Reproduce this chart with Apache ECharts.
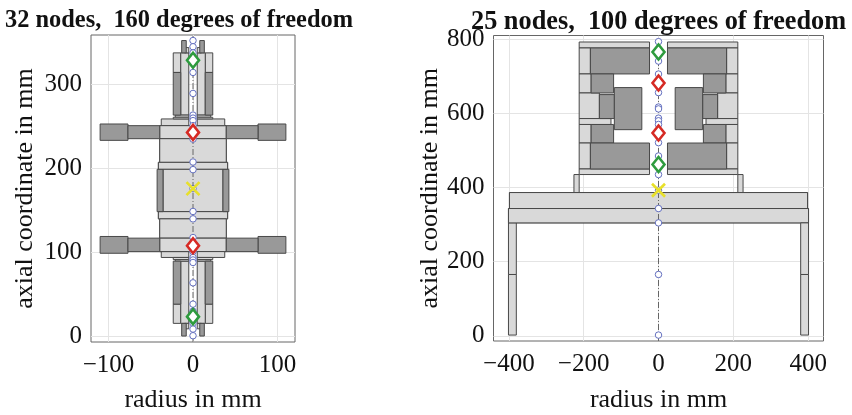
<!DOCTYPE html>
<html><head><meta charset="utf-8">
<script src="https://cdn.jsdelivr.net/npm/echarts@6/dist/echarts.min.js"></script>
<style>html,body{margin:0;padding:0;background:#fff}#c{width:852px;height:415px}</style>
</head><body><div id="c"></div>
<script>
const titleA = '32 nodes,  160 degrees of freedom';
const titleB = '25 nodes,  100 degrees of freedom';
const xName = 'radius in mm';
const yName = 'axial coordinate in mm';
const xTicksA = [-100, 0, 100];
const yTicksA = [0, 100, 200, 300];
const xTicksB = [-400, -200, 0, 200, 400];
const yTicksB = [0, 200, 400, 600, 800];

// rectangles in mm: [r0, z0, r1, z1]; every one is mirrored about r = 0
const lightA = [
  [-39.4, 235.5, 39.4, 251], [-39.4, 207.3, 39.4, 235.5], [-37.6, 251, -5, 259], [-41, 199, 41, 207.3],
  [-35.5, 148.6, 35.5, 199], [-41, 140, 41, 148.6], [-39.4, 117, 39.4, 140], [-39.4, 101, 39.4, 117],
  [-37.6, 94, -5, 101],
  [-23.4, 314.4, -14.5, 337.7], [-14.5, 263.6, -5, 337.7], [-21, 261, -5, 263.6], [-23.4, 259, -5, 261],
  [-10, 337.7, -5, 344],
  [-23.4, 15.5, -14.5, 38.4], [-14.5, 15.5, -5, 89.6], [-21, 91.5, -5, 89.6], [-23.4, 94, -5, 91.5],
  [-10, 9, -5, 15.5]
];
const darkA = [
  [-110, 233.5, -77, 253], [-77, 235.5, -39.4, 251],
  [-110, 99, -77, 119], [-77, 101, -39.4, 117],
  [-42.5, 148.6, -35.5, 199],
  [-23.4, 263.6, -14.5, 314.4], [-23.4, 38.4, -14.5, 89.6],
  [-13.4, 337.7, -8, 352.4], [-13.4, 0.4, -8, 15.5]
];
const lightB = [
  [-212, 776.4, -24, 792.5], [-212, 706.3, -182, 776.4], [-212, 655, -180, 706.3],
  [-212, 586, -158, 655], [-212, 570, -127, 586], [-212, 520, -180, 570],
  [-212, 450, -182, 520], [-212, 435, -24, 450], [-226, 386.4, -212, 435],
  [-398.4, 343.3, 398.4, 386.4], [-401, 304.6, 401, 343.3],
  [-401, 165.4, -380, 304.6], [-401, 2, -380, 165.4]
];
const darkB = [
  [-182, 706.3, -24, 776.4], [-180, 655, -120, 706.3], [-158, 586, -118, 650.6],
  [-118, 556, -44.6, 669.5], [-180, 520, -120, 570], [-182, 450, -24, 520]
];

const nodesA = [352.4, 345, 337.7, 329, 314.4, 289.4, 263.6, 260, 257, 251, 243, 235, 207.7, 198.6, 176,
  148.8, 140, 117.7, 108, 101, 94, 91, 88, 63.8, 38.4, 30, 23.8, 15.8, 8.7, 0.8];
const greenA = [329, 23.5];
const redA = [243, 108];
const yellowA = [176];
const nodesB = [793.5, 765.6, 741, 706, 682, 656, 617, 612, 587, 580, 570, 547, 521, 485, 462, 435, 392.7, 343.3, 304.6, 165.4, 2];
const greenB = [765.6, 462];
const redB = [682, 547];
const yellowB = [392.7];

const serif = '"Liberation Serif", serif';
const mirror = rs => rs.concat(rs.map(r => [-r[0], r[1], -r[2], r[3]]));
const onAxis = zs => zs.map(z => [0, z]);

function rectSeries(i, rects, fill) {
  return {
    type: 'custom', xAxisIndex: i, yAxisIndex: i, z: 2, clip: true, silent: true,
    encode: { x: [0, 2], y: [1, 3] },
    data: mirror(rects),
    renderItem(params, api) {
      const a = api.coord([api.value(0), api.value(1)]);
      const b = api.coord([api.value(2), api.value(3)]);
      return {
        type: 'rect',
        shape: { x: Math.min(a[0], b[0]), y: Math.min(a[1], b[1]), width: Math.abs(a[0] - b[0]), height: Math.abs(a[1] - b[1]) },
        style: { fill, stroke: '#484848', lineWidth: 1 }
      };
    }
  };
}
function markerSeries(i, zs, symbol, size, color, bw, z, fill) {
  return {
    type: 'scatter', xAxisIndex: i, yAxisIndex: i, z, silent: true, symbol, symbolSize: size,
    data: onAxis(zs),
    itemStyle: { color: fill, borderColor: color, borderWidth: bw, opacity: 1 }
  };
}
function axisSeries(i, lo, hi) {
  return {
    type: 'line', xAxisIndex: i, yAxisIndex: i, z: 3, silent: true, symbol: 'none',
    data: [[0, lo], [0, hi]],
    lineStyle: { color: '#666', width: 1, type: [6, 2, 1, 2] }
  };
}
const crossPath = 'path://M0,0 L10,10 M10,0 L0,10';
function axes(min, max, ticks, name, gap, margin) {
  return {
    type: 'value', min, max, name, nameLocation: 'middle', nameGap: gap,
    nameTextStyle: { fontFamily: serif, fontSize: 26, color: '#111' },
    axisLine: { show: false },
    axisTick: { show: true, inside: true, length: 3, customValues: ticks, lineStyle: { color: '#e4e4e4' } },
    axisLabel: { customValues: ticks, fontFamily: serif, fontSize: 25, color: '#111', margin,
      formatter: v => String(v).replace('-', '\u2212') },
    splitLine: { show: true, lineStyle: { color: '#e4e4e4', width: 1 } }
  };
}
const chart = echarts.init(document.getElementById('c'), null, { renderer: 'canvas' });
chart.setOption({
  animation: false,
  backgroundColor: '#fff',
  title: [
    { text: titleA, left: 0, top: 4, textStyle: { fontFamily: serif, fontWeight: 'bold', fontSize: 24.4, color: '#111' } },
    { text: titleB, left: 466, top: 4, textStyle: { fontFamily: serif, fontWeight: 'bold', fontSize: 26.3, color: '#111' } }
  ],
  grid: [
    { left: 91, top: 35, width: 204, height: 307, show: true, borderColor: '#666', borderWidth: 1, backgroundColor: '#fff', outerBoundsMode: 'none' },
    { left: 493.5, top: 35.5, width: 330, height: 305.5, show: true, borderColor: '#666', borderWidth: 1, backgroundColor: '#fff', outerBoundsMode: 'none' }
  ],
  xAxis: [
    Object.assign(axes(-120.8, 120.8, xTicksA, xName, 45, 11), { gridIndex: 0 }),
    Object.assign(axes(-441, 441, xTicksB, xName, 46, 11), { gridIndex: 1 })
  ],
  yAxis: [
    Object.assign(axes(-6.7, 359, yTicksA, yName, 53, 9), { gridIndex: 0 }),
    Object.assign(axes(-14, 810, yTicksB, yName, 48, 9), { gridIndex: 1 })
  ],
  series: [
    rectSeries(0, lightA, '#d9d9d9'), rectSeries(0, darkA, '#999999'),
    axisSeries(0, -6.7, 359),
    markerSeries(0, nodesA, 'circle', 6.5, '#6470c0', 1, 4, '#fff'),
    markerSeries(0, greenA, 'diamond', [12, 15], '#2e9b3e', 2.6, 5, '#fff'),
    markerSeries(0, redA, 'diamond', [12, 15], '#d62a24', 2.6, 5, '#fff'),
    markerSeries(0, yellowA, crossPath, 13, '#e8e02a', 2.6, 5, 'none'),
    rectSeries(1, lightB, '#d9d9d9'), rectSeries(1, darkB, '#999999'),
    axisSeries(1, -14, 810),
    markerSeries(1, nodesB, 'circle', 6.5, '#6470c0', 1, 4, '#fff'),
    markerSeries(1, greenB, 'diamond', [12, 15], '#2e9b3e', 2.6, 5, '#fff'),
    markerSeries(1, redB, 'diamond', [12, 15], '#d62a24', 2.6, 5, '#fff'),
    markerSeries(1, yellowB, crossPath, 13, '#e8e02a', 2.6, 5, 'none')
  ]
});
</script></body></html>
